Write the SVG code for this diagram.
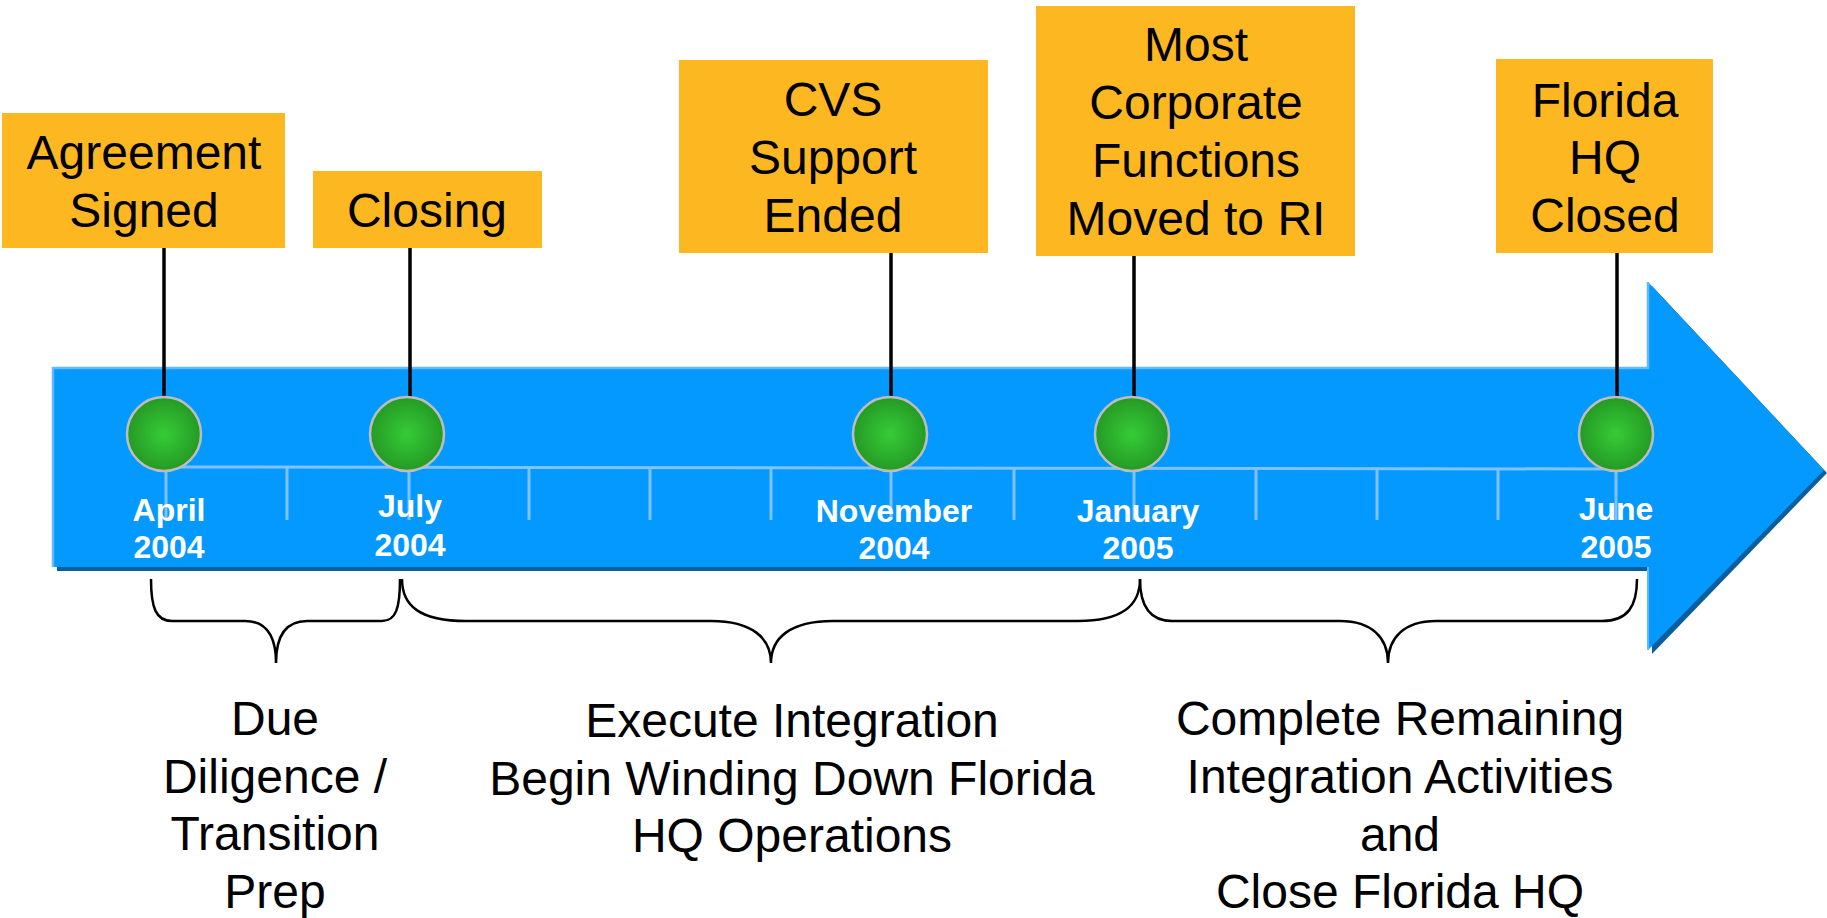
<svg xmlns="http://www.w3.org/2000/svg" width="1827" height="918" viewBox="0 0 1827 918">
<defs>
<radialGradient id="gr" cx="0.5" cy="0.5" r="0.5">
<stop offset="0" stop-color="#36CC36"/>
<stop offset="1" stop-color="#259A25"/>
</radialGradient>
<style>
.box{fill:#FDB821}
.bt{font-family:"Liberation Sans",Arial,sans-serif;font-size:48px;fill:#000;text-anchor:middle}
.dt{font-family:"Liberation Sans",Arial,sans-serif;font-size:32px;font-weight:bold;fill:#fff;text-anchor:middle}
.stem{stroke:#000;stroke-width:3.5;fill:none}
.tick{stroke:#80C2FF;stroke-width:3;fill:none}
.dot{fill:url(#gr);stroke:#BDBDBD;stroke-width:2.5}
.brace{stroke:#000;stroke-width:2.5;fill:none}
</style>
</defs>
<rect width="1827" height="918" fill="#fff"/>
<g id="arrow">
<polygon points="57,371 1652,371 1652,286 1827,473 1652,654 1652,571 57,571" fill="#0A5E9E"/>
<polygon points="53,368 1648,368 1648,282 1824,470 1648,650 1648,567 53,567" fill="#0499FE"/>
<polyline points="53,567 53,368 1648,368 1648,282" fill="none" stroke="#63B9FF" stroke-width="2.5"/>
<line x1="1648" y1="567" x2="1648" y2="650" stroke="#63B9FF" stroke-width="2"/>
</g>
<g id="scale">
<path class="tick" d="M166,467 L1616,469"/>
<path class="tick" d="M166,467V520 M287,467V520 M409,467V520 M529,467V520 M650,467V520 M771,468V520 M891,468V520 M1014,468V520 M1134,468V520 M1256,468V520 M1377,469V520 M1498,469V520 M1616,469V520"/>
</g>
<g id="connectors">
<line class="stem" x1="164" y1="248" x2="164" y2="397"/>
<line class="stem" x1="410" y1="248" x2="410" y2="397"/>
<line class="stem" x1="891" y1="253" x2="891" y2="397"/>
<line class="stem" x1="1134" y1="256" x2="1134" y2="397"/>
<line class="stem" x1="1617" y1="253" x2="1617" y2="397"/>
</g>
<g id="m-april">
<circle class="dot" cx="164" cy="434" r="37"/>
<text class="dt" x="169" y="521">April</text>
<text class="dt" x="169" y="558">2004</text>
</g>
<g id="m-july">
<circle class="dot" cx="407" cy="434" r="37"/>
<text class="dt" x="410" y="517">July</text>
<text class="dt" x="410" y="556">2004</text>
</g>
<g id="m-november">
<circle class="dot" cx="890" cy="434" r="37"/>
<text class="dt" x="894" y="522">November</text>
<text class="dt" x="894" y="559">2004</text>
</g>
<g id="m-january">
<circle class="dot" cx="1132" cy="434" r="37"/>
<text class="dt" x="1138" y="522">January</text>
<text class="dt" x="1138" y="559">2005</text>
</g>
<g id="m-june">
<circle class="dot" cx="1616" cy="434" r="37"/>
<text class="dt" x="1616" y="520">June</text>
<text class="dt" x="1616" y="558">2005</text>
</g>
<g id="e-agreement">
<rect class="box" x="2" y="113" width="283" height="135"/>
<text class="bt" x="144" y="169">Agreement</text>
<text class="bt" x="144" y="227">Signed</text>
</g>
<g id="e-closing">
<rect class="box" x="313" y="171" width="229" height="77"/>
<text class="bt" x="427" y="227">Closing</text>
</g>
<g id="e-cvs">
<rect class="box" x="679" y="60" width="309" height="193"/>
<text class="bt" x="833" y="116">CVS</text>
<text class="bt" x="833" y="174">Support</text>
<text class="bt" x="833" y="232">Ended</text>
</g>
<g id="e-most">
<rect class="box" x="1036" y="6" width="319" height="250"/>
<text class="bt" x="1196" y="61">Most</text>
<text class="bt" x="1196" y="119">Corporate</text>
<text class="bt" x="1196" y="177">Functions</text>
<text class="bt" x="1196" y="235">Moved to RI</text>
</g>
<g id="e-florida">
<rect class="box" x="1496" y="59" width="217" height="194"/>
<text class="bt" x="1605" y="117">Florida</text>
<text class="bt" x="1605" y="174">HQ</text>
<text class="bt" x="1605" y="232">Closed</text>
</g>
<g id="braces">
<path class="brace" d="M151,579 C151,608 156,621 172,621 L245,621 C266,621 276,635 276,663 C276,635 286,621 307,621 L382,621 C396,621 400,608 400,579"/>
<path class="brace" d="M402,579 C402,606 420,621 466,621 L711,621 C752,621 771,638 771,663 C771,638 790,621 833,621 L1078,621 C1122,621 1140,606 1140,579"/>
<path class="brace" d="M1140,579 C1140,606 1150,621 1172,621 L1340,621 C1372,621 1388,638 1388,663 C1388,638 1404,621 1436,621 L1602,621 C1628,621 1637,606 1637,579"/>
</g>
<g id="phase-1">
<text class="bt" x="275" y="735">Due</text>
<text class="bt" x="275" y="793">Diligence /</text>
<text class="bt" x="275" y="850">Transition</text>
<text class="bt" x="275" y="908">Prep</text>
</g>
<g id="phase-2">
<text class="bt" x="792" y="737">Execute Integration</text>
<text class="bt" x="792" y="795">Begin Winding Down Florida</text>
<text class="bt" x="792" y="852">HQ Operations</text>
</g>
<g id="phase-3">
<text class="bt" x="1400" y="735">Complete Remaining</text>
<text class="bt" x="1400" y="793">Integration Activities</text>
<text class="bt" x="1400" y="851">and</text>
<text class="bt" x="1400" y="908">Close Florida HQ</text>
</g>
</svg>
